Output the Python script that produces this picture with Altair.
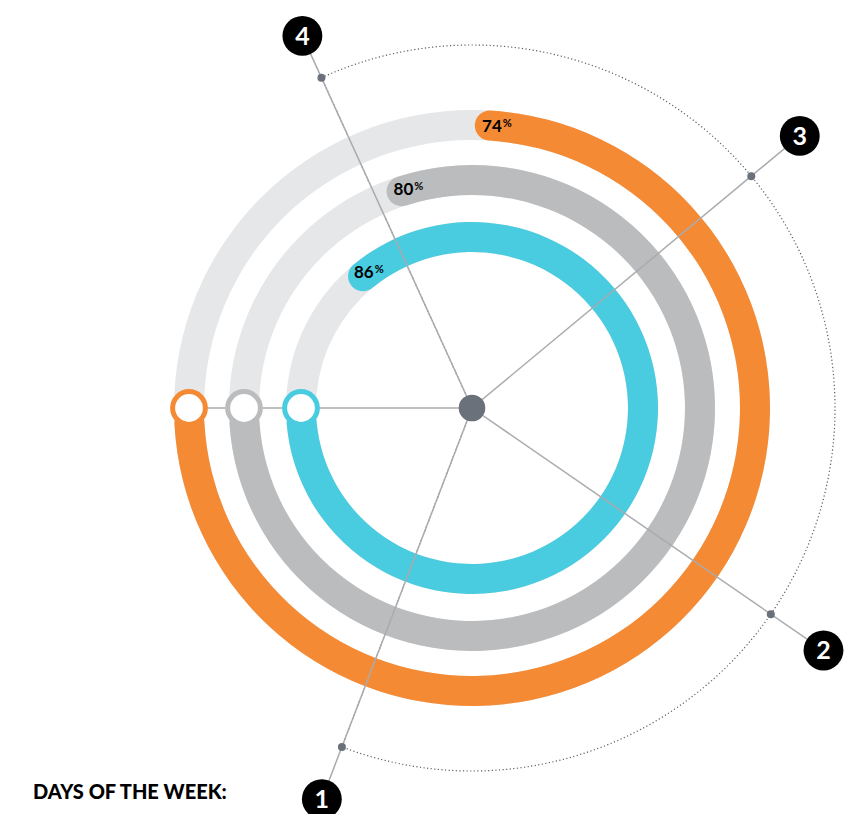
import math
import numpy as np
import pandas as pd
import altair as alt

# ---- values ----
ring_names = ["outer", "middle", "inner"]
ring_pct = [74, 80, 86]
ring_colors = ["#f58a34", "#bbbcbe", "#49cbe0"]
day_labels = ["1", "2", "3", "4"]
day_angles = [201.0, 124.6, 50.3, -24.5]      # degrees, clockwise from 12 o'clock
day_label_radius = [419, 427, 426, 409]
title_text = "DAYS OF THE WEEK:"

# ---- layout / style ----
ring_radius = [283, 228, 171]
ring_width = 30
start_angle = 270          # rings start at 9 o'clock
dot_radius = 363
track_color = "#e6e7e8"
spoke_color = "#a9abae"
hub_color = "#6b717a"


def polar(r, deg):
    a = np.radians(deg)
    return r * np.sin(a), r * np.cos(a)


half = ring_width / 2
rings = pd.DataFrame({"name": ring_names, "pct": ring_pct, "r": ring_radius})
rings["cx"] = 0.0
rings["cy"] = 0.0
rings["ri"] = rings["r"] - half
rings["ro"] = rings["r"] + half
cap_deg = np.degrees(half / rings["r"])
end_deg = start_angle - rings["pct"] * 3.6
rings["t_start"] = end_deg - cap_deg
rings["t_end"] = float(start_angle)
rings["trk0"] = 0.0
rings["trk1"] = 360.0
txt_deg = end_deg + np.degrees(6 / rings["r"])
rings["tx"], rings["ty"] = polar(rings["r"], txt_deg)
rings["mx"], rings["my"] = polar(rings["r"], start_angle)
rings["num"] = rings["pct"].astype(str)
rings["pc"] = "%"

days = pd.DataFrame({"day": day_labels, "ang": day_angles, "lr": day_label_radius})
days["x0"] = 0.0
days["y0"] = 0.0
days["dx_"], days["dy_"] = polar(dot_radius, days["ang"])
days["lx"], days["ly"] = polar(days["lr"], days["ang"])

arcdf = pd.DataFrame({
    "cx": [0.0], "cy": [0.0], "r": [dot_radius],
    "t0": [day_angles[3]], "t1": [day_angles[0]],
})
hline = pd.DataFrame({"x0": [0.0], "y0": [0.0],
                      "x1": [float(rings["mx"].min())], "y1": [0.0]})
hub = pd.DataFrame({"x": [0.0], "y": [0.0]})

xs = alt.Scale(domain=[-464, 386], nice=False, zero=False)
ys = alt.Scale(domain=[-406, 400], nice=False, zero=False)
ts = alt.Scale(domain=[0, 360], range=[0, 2 * math.pi], nice=False, zero=False)
col = alt.Scale(domain=ring_names, range=ring_colors)

X = lambda f: alt.X(f, type="quantitative", scale=xs, axis=None)
Y = lambda f: alt.Y(f, type="quantitative", scale=ys, axis=None)

dotted = alt.Chart(arcdf).mark_arc(
    filled=False, stroke="#5a5e66", strokeWidth=1.2, strokeDash=[1.2, 2.4]
).encode(
    x=X("cx"), y=Y("cy"),
    theta=alt.Theta("t0:Q", scale=ts, stack=None), theta2="t1:Q",
    radius=alt.Radius("r:Q", scale=None),
)

track = alt.Chart(rings).mark_arc(color=track_color).encode(
    x=X("cx"), y=Y("cy"),
    theta=alt.Theta("trk0:Q", scale=ts, stack=None), theta2="trk1:Q",
    radius=alt.Radius("ro:Q", scale=None), radius2="ri:Q",
)

progress = alt.Chart(rings).mark_arc(cornerRadius=half).encode(
    x=X("cx"), y=Y("cy"),
    theta=alt.Theta("t_start:Q", scale=ts, stack=None), theta2="t_end:Q",
    radius=alt.Radius("ro:Q", scale=None), radius2="ri:Q",
    color=alt.Color("name:N", scale=col, legend=None),
)

hl = alt.Chart(hline).mark_rule(color=spoke_color, strokeWidth=1.5).encode(
    x=X("x0"), y=Y("y0"), x2="x1", y2="y1"
)

spokes = alt.Chart(days).mark_rule(color=spoke_color, strokeWidth=1.5).encode(
    x=X("x0"), y=Y("y0"), x2="lx", y2="ly"
)

dots = alt.Chart(days).mark_point(
    shape="circle", filled=True, size=64, color=hub_color, opacity=1
).encode(x=X("dx_"), y=Y("dy_"))

hubc = alt.Chart(hub).mark_point(
    shape="circle", filled=True, size=707, color=hub_color, opacity=1
).encode(x=X("x"), y=Y("y"))

markers = alt.Chart(rings).mark_point(
    shape="circle", filled=True, fill="white", size=1075, strokeWidth=5, opacity=1
).encode(
    x=X("mx"), y=Y("my"),
    stroke=alt.Stroke("name:N", scale=col, legend=None),
)

badges = alt.Chart(days).mark_point(
    shape="circle", filled=True, size=1590, color="black", opacity=1
).encode(x=X("lx"), y=Y("ly"))

badge_txt = alt.Chart(days).mark_text(
    font="Lato", fontWeight="bold", fontSize=25, color="white",
    align="center", baseline="middle", dy=1
).encode(x=X("lx"), y=Y("ly"), text="day:N")

pct_num = alt.Chart(rings).mark_text(
    font="Lato", fontWeight="bold", fontSize=17, color="#000000",
    align="right", baseline="middle", dx=6, dy=1
).encode(x=X("tx"), y=Y("ty"), text="num:N")

pct_sym = alt.Chart(rings).mark_text(
    font="Lato", fontWeight="bold", fontSize=11, color="#000000",
    align="left", baseline="middle", dx=7, dy=-2
).encode(x=X("tx"), y=Y("ty"), text="pc:N")

title = alt.Chart(pd.DataFrame({"t": [title_text]})).mark_text(
    font="Lato", fontWeight=900, fontSize=20, color="#000000",
    align="left", baseline="middle"
).encode(x=alt.value(25), y=alt.value(785), text="t:N")

chart = alt.layer(
    dotted, track, progress, hl, spokes, dots, hubc, markers,
    badges, badge_txt, pct_num, pct_sym, title
).properties(
    width=850, height=806, padding=0,
    autosize=alt.AutoSizeParams(type="none"),
).configure_view(stroke=None)

chart.save("out.html", embed_options={"renderer": "svg", "actions": False})
